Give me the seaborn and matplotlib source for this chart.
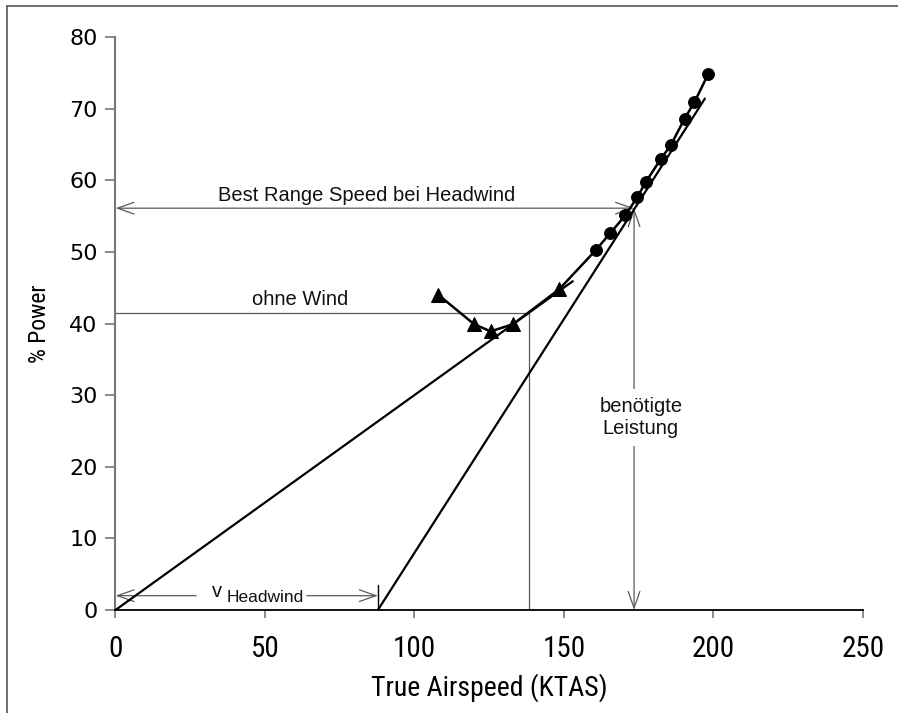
import matplotlib
matplotlib.use("Agg")
import matplotlib.pyplot as plt
import seaborn as sns
from matplotlib.lines import Line2D

# ---- data ----
# "ohne Wind" measured points (triangles)
tri_x = [108.0, 120.0, 125.5, 133.0, 148.5]
tri_y = [44.0, 39.9, 38.9, 39.9, 44.8]
# "Headwind" measured points (circles)
circ_x = [160.6, 165.5, 170.6, 174.5, 177.5, 182.5, 185.8, 190.4, 193.7, 198.4]
circ_y = [50.2, 52.6, 55.1, 57.6, 59.8, 63.0, 64.9, 68.6, 70.9, 74.9]
# connecting segment between the two series
link_x = [148.5, 160.6]
link_y = [44.8, 50.2]
# tangent from origin (no wind)
tan0_x = [0.0, 153.0]
tan0_y = [0.0, 45.9]
# tangent from headwind offset
tanw_x = [87.8, 197.2]
tanw_y = [0.0, 71.4]

best_range_nowind = (138.3, 41.5)
best_range_headwind = (173.5, 56.1)
v_headwind = 87.8

x_ticks = [0, 50, 100, 150, 200, 250]
y_ticks = [0, 10, 20, 30, 40, 50, 60, 70, 80]

sns.set_theme(style="white")
plt.rcParams['font.family'] = ['Liberation Sans', 'DejaVu Sans']

narrow = ['Roboto Condensed', 'Liberation Sans Narrow', 'DejaVu Sans']

fig = plt.figure(figsize=(8.98, 7.13), dpi=100)
ax = fig.add_axes([115.5 / 898, 1 - 610 / 713, (862.7 - 115.5) / 898, (610 - 37) / 713])

gray = '#5a5a5a'
ann_lw = 0.9

# annotation lines (behind data)
ax.plot([0, best_range_nowind[0]], [best_range_nowind[1]] * 2, color=gray, lw=ann_lw, zorder=1)
ax.plot([best_range_nowind[0]] * 2, [0, best_range_nowind[1]], color=gray, lw=ann_lw, zorder=1)

arrow = dict(arrowstyle='<->,head_length=1.0,head_width=0.35', color=gray, lw=ann_lw,
             shrinkA=0, shrinkB=0)
arrow1 = dict(arrowstyle='->,head_length=1.0,head_width=0.35', color=gray, lw=ann_lw,
              shrinkA=0, shrinkB=0)
ax.annotate('', xy=(0, best_range_headwind[1]), xytext=(best_range_headwind[0], best_range_headwind[1]),
            arrowprops=arrow, zorder=1)
ax.annotate('', xy=(best_range_headwind[0], 0), xytext=(best_range_headwind[0], best_range_headwind[1]),
            arrowprops=arrow, zorder=1)
ax.annotate('', xy=(0, 2.0), xytext=(27, 2.0), arrowprops=arrow1, zorder=1)
ax.annotate('', xy=(v_headwind, 2.0), xytext=(64, 2.0), arrowprops=arrow1, zorder=1)
ax.plot([v_headwind] * 2, [0, 3.5], color='black', lw=1.0, zorder=1)

# tangents
sns.lineplot(x=tan0_x, y=tan0_y, color='black', lw=1.6, ax=ax, zorder=3)
sns.lineplot(x=tanw_x, y=tanw_y, color='black', lw=1.6, ax=ax, zorder=3)

# data series
sns.lineplot(x=link_x, y=link_y, color='black', lw=1.8, ax=ax, zorder=4)
sns.lineplot(x=tri_x, y=tri_y, sort=False, color='black', lw=1.8, marker='^',
             markersize=10, markeredgecolor='black', ax=ax, zorder=5)
sns.lineplot(x=circ_x, y=circ_y, sort=False, color='black', lw=1.8, marker='o',
             markersize=8.5, markeredgecolor='black', ax=ax, zorder=5)

# texts
tfs = 14.5
ax.text(84.1, 57.9, 'Best Range Speed bei Headwind', ha='center', va='center', fontsize=tfs,
        color='#111111')
ax.text(61.7, 43.4, 'ohne Wind', ha='center', va='center', fontsize=tfs, color='#111111')
ax.text(175.8, 26.9, 'benötigte\nLeistung', ha='center', va='center', fontsize=tfs,
        color='#111111', linespacing=1.2,
        bbox=dict(facecolor='white', edgecolor='none', pad=6), zorder=2)
ax.text(34.0, 2.6, 'v', ha='center', va='center', fontsize=14.5, color='#111111')
ax.text(37.2, 1.7, 'Headwind', ha='left', va='center', fontsize=12.5, color='#111111')

ax.set_xlim(0, 250)
ax.set_ylim(0, 80)
ax.set_xticks(x_ticks)
ax.set_yticks(y_ticks)
ax.set_xticklabels([str(v) for v in x_ticks], family=narrow, fontstretch='condensed',
                   fontsize=21)
ax.set_yticklabels([str(v) for v in y_ticks], family=['DejaVu Sans'], fontsize=16)
ax.tick_params(axis='x', direction='out', length=6, width=1.2, color='#777777', pad=12,
               bottom=True, labelcolor='black')
ax.tick_params(axis='y', direction='out', length=7, width=1.2, color='#777777', pad=6,
               left=True, labelcolor='black')
ax.set_xlabel('True Airspeed (KTAS)', family=narrow, fontstretch='condensed',
              fontsize=20, labelpad=7, color='black')
ax.set_ylabel('% Power', family=narrow, fontstretch='condensed',
              fontsize=17, labelpad=13, color='black')

for s in ['top', 'right']:
    ax.spines[s].set_visible(False)
ax.spines['bottom'].set_color('black')
ax.spines['bottom'].set_linewidth(1.3)
ax.spines['left'].set_color('#777777')
ax.spines['left'].set_linewidth(1.5)
ax.grid(False)
ax.set_facecolor('white')

# figure frame (left and top edges)
fig.add_artist(Line2D([7 / 898, 7 / 898], [0, 1 - 6 / 713], transform=fig.transFigure,
                      color='#555555', lw=1.2))
fig.add_artist(Line2D([7 / 898, 1], [1 - 6 / 713, 1 - 6 / 713], transform=fig.transFigure,
                      color='#555555', lw=1.2))

fig.savefig('out.png', dpi=100, facecolor='white')
